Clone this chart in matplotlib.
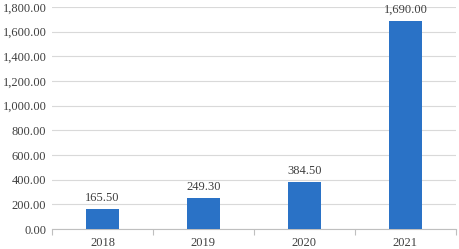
import matplotlib.pyplot as plt
from matplotlib.ticker import FuncFormatter, FixedLocator

plt.rcParams["font.family"] = "Liberation Serif"

years = ["2018", "2019", "2020", "2021"]
values = [165.50, 249.30, 384.50, 1690.00]

fig = plt.figure(figsize=(4.6, 2.49), dpi=100)
ax = fig.add_axes([0.113, 0.080, 0.878, 0.892])

x = range(len(years))
bars = ax.bar(x, values, width=0.32, color="#2a72c6", zorder=3)

for b, v in zip(bars, values):
    ax.text(b.get_x() + b.get_width() / 2, v + 40, f"{v:,.2f}",
            ha="center", va="bottom", fontsize=9, color="#404040")

ax.set_ylim(0, 1800)
ax.set_xlim(-0.5, 3.5)
ax.set_yticks(range(0, 1801, 200))
ax.yaxis.set_major_formatter(FuncFormatter(lambda v, p: f"{v:,.2f}"))
ax.grid(axis="y", color="#d9d9d9", linewidth=0.8, zorder=0)

ax.set_xticks(list(x))
ax.set_xticklabels(years)
ax.xaxis.set_minor_locator(FixedLocator([-0.5, 0.5, 1.5, 2.5, 3.5]))
ax.tick_params(axis="x", which="major", length=0, labelsize=9, labelcolor="#404040", pad=6)
ax.tick_params(axis="x", which="minor", length=4, color="#bfbfbf", width=0.8)
ax.tick_params(axis="y", length=0, labelsize=9, labelcolor="#404040", pad=4)

for s in ["top", "right", "left"]:
    ax.spines[s].set_visible(False)
ax.spines["bottom"].set_color("#bfbfbf")
ax.spines["bottom"].set_linewidth(0.8)

plt.savefig("out.png", dpi=100)
